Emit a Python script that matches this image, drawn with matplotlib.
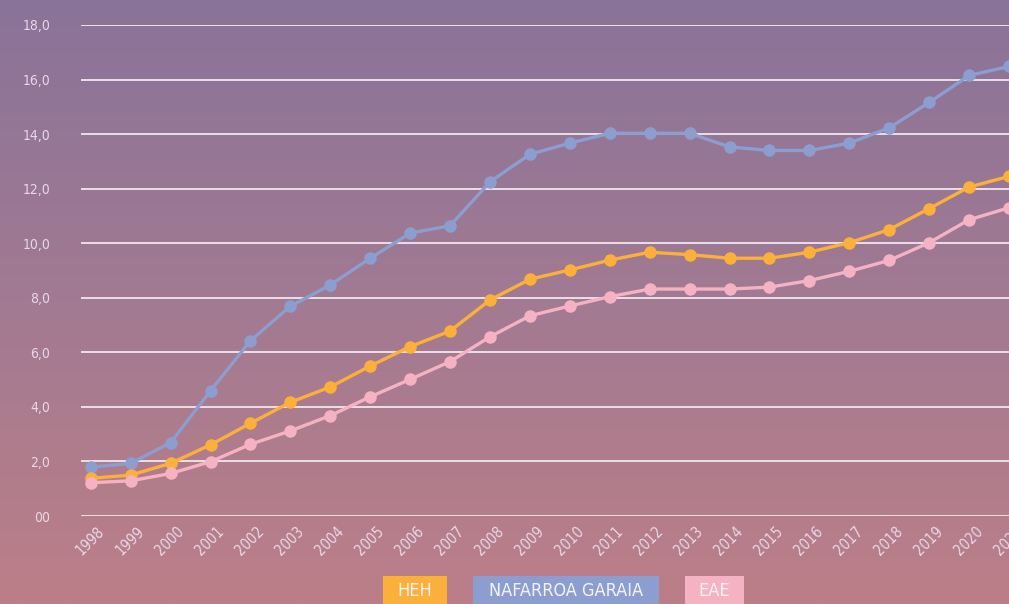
import matplotlib
matplotlib.use("Agg")
import matplotlib.pyplot as plt
import numpy as np
from matplotlib.patches import Rectangle
from matplotlib.colors import LinearSegmentedColormap
import matplotlib.transforms as mtransforms
from matplotlib import font_manager

years = [str(y) for y in range(1998, 2022)]
heh = [1.38, 1.50, 1.93, 2.61, 3.40, 4.17, 4.73, 5.50, 6.21, 6.78, 7.92, 8.68,
       9.02, 9.38, 9.67, 9.58, 9.45, 9.45, 9.67, 10.02, 10.50, 11.27, 12.06, 12.45]
nafarroa = [1.79, 1.93, 2.69, 4.59, 6.43, 7.69, 8.47, 9.45, 10.37, 10.64, 12.25, 13.26,
            13.67, 14.03, 14.03, 14.03, 13.53, 13.40, 13.40, 13.67, 14.23, 15.16, 16.15, 16.48]
eae = [1.22, 1.29, 1.56, 1.99, 2.63, 3.12, 3.68, 4.37, 5.01, 5.66, 6.57, 7.34,
       7.70, 8.04, 8.32, 8.32, 8.32, 8.39, 8.63, 8.97, 9.37, 10.02, 10.86, 11.30]
series_names = ["HEH", "NAFARROA GARAIA", "EAE"]
series_colors = ["#fbb03b", "#8b9ecf", "#f5b2c2"]
y_ticks = [0, 2, 4, 6, 8, 10, 12, 14, 16, 18]
y_labels = ["00", "2,0", "4,0", "6,0", "8,0", "10,0", "12,0", "14,0", "16,0", "18,0"]

plt.rcParams['font.family'] = ['DejaVu Sans']
plt.rcParams['font.stretch'] = 'condensed'

W, H = 1009, 604
fig = plt.figure(figsize=(W / 100, H / 100), dpi=100)

# gradient background
bg = fig.add_axes([0, 0, 1, 1], zorder=-10)
cmap = LinearSegmentedColormap.from_list("bg", ["#8a7399", "#a27a92", "#bc7f88"])
grad = np.linspace(0, 1, 256).reshape(-1, 1)
bg.imshow(grad, aspect="auto", cmap=cmap, extent=[0, 1, 0, 1], origin="upper")
bg.set_axis_off()

left, right, top, bottom = 81, 1009, 25, 516
ax = fig.add_axes([left / W, (H - bottom) / H, (right - left) / W, (bottom - top) / H])
ax.patch.set_alpha(0)

x = np.arange(len(years))
for vals, col, z in [(nafarroa, series_colors[1], 3), (heh, series_colors[0], 4), (eae, series_colors[2], 5)]:
    ax.plot(x, vals, color=col, lw=2.4, marker="o", ms=8, mec=col, mfc=col, zorder=z,
            solid_capstyle="round")

ax.set_ylim(0, 18)
ax.set_xlim(-10 / 40.7, (right - 91) / 40.7)
ax.set_yticks(y_ticks)
ax.set_yticklabels(y_labels)
ax.yaxis.grid(True, color="#eadfe8", lw=1.4)
ax.set_axisbelow(True)
for s in ax.spines.values():
    s.set_visible(False)
ax.tick_params(axis="y", length=0, pad=22, labelsize=10, labelcolor="#e8d8e8")
ax.tick_params(axis="x", length=0, pad=4, labelsize=10.5, labelcolor="#e8d8e8")
ax.set_xticks(x)
ax.set_xticklabels(years, rotation=45, ha="right", rotation_mode="anchor")
offset = mtransforms.ScaledTranslation(6 / 100, -2 / 100, fig.dpi_scale_trans)
for lab in ax.get_xticklabels():
    lab.set_transform(lab.get_transform() + offset)

# legend boxes
boxes = [(383, 447), (473, 659), (685, 744)]
for (x0, x1), name, col in zip(boxes, series_names, series_colors):
    fig.patches.append(Rectangle((x0 / W, 0), (x1 - x0) / W, (H - 576) / H,
                                 transform=fig.transFigure, facecolor=col, edgecolor="none"))
    fig.text((x0 + x1) / 2 / W, (H - 591.5) / H, name, ha="center", va="center",
             color="#f7f2f7", fontsize=13)

fig.savefig("out.png", dpi=100)
